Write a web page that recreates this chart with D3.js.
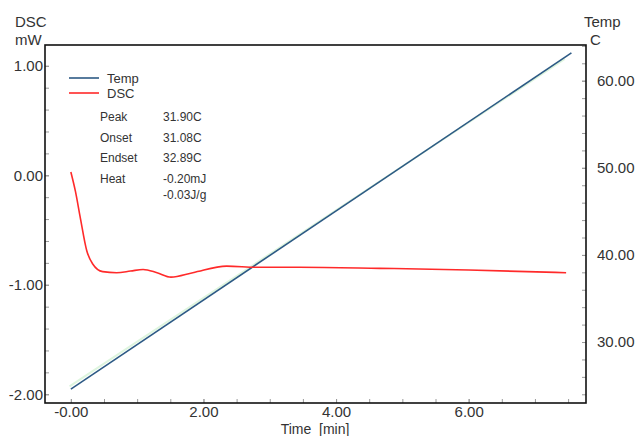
<!DOCTYPE html>
<html>
<head>
<meta charset="utf-8">
<script src="https://cdn.jsdelivr.net/npm/d3@7"></script>
<style>
  body { margin: 0; background: #fff; }
  text { font-family: "Liberation Sans", Arial, sans-serif; fill: #333; }
</style>
</head>
<body>
<svg id="chart"></svg>
<script>
// time in minutes
var dscTime  = [0.00, 0.07, 0.14, 0.24, 0.33, 0.48, 0.69, 0.90, 1.09, 1.30, 1.51, 1.84, 2.35, 2.81, 3.45, 4.66, 6.00, 7.47];
// heat flow, mW
var dscValue = [0.03, -0.15, -0.38, -0.69, -0.81, -0.88, -0.89, -0.875, -0.86, -0.89, -0.93, -0.89, -0.83, -0.84, -0.84, -0.85, -0.865, -0.89];

// sample temperature, C
var tempTime  = [0.00, 7.55];
var tempValue = [24.6, 63.2];
// program temperature (faint green, almost hidden under Temp)
var progTime  = [-0.02, 7.45];
var progValue = [24.9, 62.5];

var xTicks = [0, 2, 4, 6];
var xTickLabels = ["-0.00", "2.00", "4.00", "6.00"];
var dscTicks = [1, 0, -1, -2];
var tempTicks = [30, 40, 50, 60];

var resultLabels = ["Peak", "Onset", "Endset", "Heat", ""];
var resultValues = ["31.90C", "31.08C", "32.89C", "-0.20mJ", "-0.03J/g"];

var legendNames = ["Temp", "DSC"];

var fixed2 = function(d) { return d.toFixed(2); };

var drawChart = function(target)
{
    var screen = {width:637, height:436};
    var box = {left:45, right:586, top:45, bottom:403};

    var svg = d3.select(target)
        .attr("width", screen.width)
        .attr("height", screen.height);

    var xScale = d3.scaleLinear()
        .domain([-0.39, 7.77])
        .range([box.left, box.right]);
    var yDsc = d3.scaleLinear()
        .domain([-2.08, 1.19])
        .range([box.bottom, box.top]);
    var yTemp = d3.scaleLinear()
        .domain([23.0, 64.1])
        .range([box.bottom, box.top]);

    //minor ticks first, then the labelled ones
    var tickStyle = function(g)
    {
        g.select(".domain").remove();
        g.selectAll(".tick line").attr("stroke", "#9a9a9a");
        g.selectAll(".tick text").style("font-size", "15px").attr("fill", "#333");
    };

    svg.append("g")
        .attr("transform", "translate(0," + box.bottom + ")")
        .call(d3.axisBottom(xScale).tickValues(d3.range(-0.0, 7.6, 0.5)).tickSize(-4).tickFormat(""))
        .call(tickStyle);
    svg.append("g")
        .attr("transform", "translate(0," + box.bottom + ")")
        .call(d3.axisBottom(xScale).tickValues(xTicks).tickSize(-4).tickPadding(3)
            .tickFormat(function(d, i) { return xTickLabels[i]; }))
        .call(tickStyle);

    svg.append("g")
        .attr("transform", "translate(" + box.left + ",0)")
        .call(d3.axisLeft(yDsc).tickValues(d3.range(-2, 1.1, 0.2)).tickSize(-4).tickFormat(""))
        .call(tickStyle);
    svg.append("g")
        .attr("transform", "translate(" + box.left + ",0)")
        .call(d3.axisLeft(yDsc).tickValues(dscTicks).tickSize(-4).tickPadding(2)
            .tickFormat(fixed2))
        .call(tickStyle);

    svg.append("g")
        .attr("transform", "translate(" + box.right + ",0)")
        .call(d3.axisRight(yTemp).tickValues(d3.range(24, 65, 2)).tickSize(-4).tickFormat(""))
        .call(tickStyle);
    svg.append("g")
        .attr("transform", "translate(" + box.right + ",0)")
        .call(d3.axisRight(yTemp).tickValues(tempTicks).tickSize(-4).tickPadding(11)
            .tickFormat(fixed2))
        .call(tickStyle);

    // frame
    svg.append("rect")
        .attr("x", box.left).attr("y", box.top)
        .attr("width", box.right - box.left).attr("height", box.bottom - box.top)
        .attr("fill", "none").attr("stroke", "#111").attr("stroke-width", 1.6);

    // axis titles
    svg.append("text").attr("x", 15).attr("y", 27).style("font-size", "15px").text("DSC");
    svg.append("text").attr("x", 15).attr("y", 45).style("font-size", "15px").text("mW");
    svg.append("text").attr("x", 584).attr("y", 27).style("font-size", "15px").text("Temp");
    svg.append("text").attr("x", 590).attr("y", 45).style("font-size", "15px").text("C");
    svg.append("text").attr("x", 315).attr("y", 434).attr("text-anchor", "middle")
        .style("font-size", "14px").attr("xml:space", "preserve").text("Time  [min]");

    // series
    var pts = function(xs, ys) { return xs.map(function(x, i) { return [x, ys[i]]; }); };

    var tempLine = d3.line()
        .x(function(d) { return xScale(d[0]); })
        .y(function(d) { return yTemp(d[1]); });
    var dscLine = d3.line()
        .x(function(d) { return xScale(d[0]); })
        .y(function(d) { return yDsc(d[1]); })
        .curve(d3.curveMonotoneX);

    svg.append("path")
        .attr("d", tempLine(pts(progTime, progValue)))
        .attr("fill", "none").attr("stroke", "#def5de").attr("stroke-width", 2);
    svg.append("path")
        .attr("d", tempLine(pts(tempTime, tempValue)))
        .attr("fill", "none").attr("stroke", "#2d5a85").attr("stroke-width", 1.6);
    svg.append("path")
        .attr("d", dscLine(pts(dscTime, dscValue)))
        .attr("fill", "none").attr("stroke", "#ff2a2a").attr("stroke-width", 1.6);

    // legend
    var legendColors = ["#2d5a85", "#ff2a2a"];
    legendNames.forEach(function(name, i)
    {
        svg.append("line")
            .attr("x1", 69).attr("x2", 99)
            .attr("y1", 78 + i * 15).attr("y2", 78 + i * 15)
            .attr("stroke", legendColors[i]).attr("stroke-width", 1.6);
        svg.append("text")
            .attr("x", 107).attr("y", 83 + i * 15)
            .style("font-size", "13px").text(name);
    });

    // peak results
    var rowY = [121, 142, 162, 183, 199];
    resultLabels.forEach(function(label, i)
    {
        svg.append("text").attr("x", 100).attr("y", rowY[i])
            .style("font-size", "12px").text(label);
        svg.append("text").attr("x", 163).attr("y", rowY[i])
            .style("font-size", "12px").text(resultValues[i]);
    });
};

drawChart("#chart");
</script>
</body>
</html>
